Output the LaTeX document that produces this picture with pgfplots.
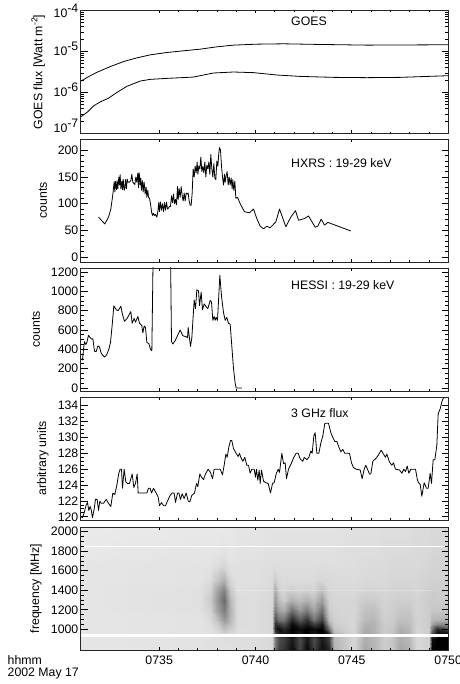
\documentclass[border=0pt]{standalone}
\usepackage{fontspec}
\setmainfont{Liberation Sans}
\usepackage{pgfplots}
\pgfplotsset{compat=1.18}
\newcommand{\tenexp}[1]{10\raisebox{0.42em}{#1}}
\tikzset{note/.style={anchor=west, font=\fontsize{12.3}{14}\selectfont, inner sep=0pt}}
\pgfplotsset{
  panel/.style={
    scale only axis, width=368pt, height=123pt, anchor=south west,
    xmin=241, xmax=1345,
    xtick={477,766,1055,1344}, xticklabels={}, minor x tick num=4,
    major tick length=7pt, minor tick length=3.5pt,
    xtick style={/pgfplots/major tick length=3pt},
    minor x tick style={/pgfplots/minor tick length=1.5pt},
    every tick/.append style={black, line width=0.8pt},
    axis line style={line width=0.9pt, black!85},
    /pgf/number format/assume math mode=true,
    /pgf/number format/1000 sep={},
    tick label style={font=\fontsize{12.3}{14}\selectfont, inner sep=2pt},
    axis on top=true,
  },
  curve/.style={black, line width=0.8pt, line join=round, no markers},
  ylab/.style={every axis y label/.style={at={(axis description cs:#1,0.5)},rotate=90,anchor=center,font=\fontsize{12.3}{14}\selectfont}},
}
\begin{document}
\begin{tikzpicture}
\path[use as bounding box] (0,0) rectangle (459pt,684pt);

% GOES
\begin{axis}[panel, at={(80.5pt,550.5pt)}, ymode=log, ymin=1e-7, ymax=1e-4,
  ytick={1e-7,1e-6,1e-5,1e-4},
  yticklabels={\raisebox{5.5pt}{\tenexp{-7}},\tenexp{-6},\tenexp{-5},\raisebox{-3pt}{\tenexp{-4}}},
  yticklabel style={anchor=base east, yshift=-4.4pt},
  ylab=-0.115, ylabel={GOES flux [Watt m\raisebox{0.4em}{\fontsize{8.5}{9}\selectfont -2}]}]
\addplot[curve] coordinates {(241,1.87e-6)(265,2.43e-6)(290,3.1e-6)(330,4.28e-6)(370,5.68e-6)(410,6.98e-6)(450,8.28e-6)(500,9.45e-6)(550,1.04e-5)(600,1.14e-5)(650,1.30e-5)(700,1.43e-5)(770,1.51e-5)(850,1.54e-5)(950,1.49e-5)(1100,1.43e-5)(1345,1.46e-5)};
\addplot[curve] coordinates {(241,2.52e-7)(262,3.35e-7)(280,4.70e-7)(300,5.89e-7)(325,7.26e-7)(350,1e-6)(380,1.41e-6)(420,1.90e-6)(450,2.09e-6)(500,2.21e-6)(580,2.38e-6)(640,2.99e-6)(700,3.16e-6)(760,3.05e-6)(830,2.67e-6)(900,2.47e-6)(1000,2.34e-6)(1100,2.30e-6)(1200,2.34e-6)(1345,2.57e-6)};
\node[note] at (rel axis cs:0.572,0.915) {GOES};
\end{axis}

% HXRS
\begin{axis}[panel, at={(80.5pt,422pt)}, ymin=-9, ymax=221,
  ytick={0,50,100,150,200}, minor y tick num=4,
  ylab=-0.102, ylabel={counts}]
\addplot[curve] coordinates {(295,75)(314,62)(325,75)(332,90)(338,117)(342,141)(344,122)(346,142)(349,126)(351,143)(353,128)(356,150)(358,135)(360,154)(362,128)(365,142)(367,126)(369,146)(372,125)(374,128)(376,145)(379,128)(381,146)(384,140)(386,140)(389,141)(392,143)(395,155)(398,140)(401,138)(404,136)(407,150)(410,140)(413,157)(415,130)(417,158)(420,135)(422,148)(424,125)(427,143)(429,122)(432,140)(435,118)(438,131)(440,112)(443,125)(445,112)(448,110)(451,100)(454,85)(457,78)(460,82)(463,78)(466,80)(470,75)(473,85)(476,103)(478,85)(481,103)(484,88)(487,100)(490,85)(493,102)(496,88)(499,103)(502,90)(505,92)(508,95)(511,95)(514,115)(517,102)(520,118)(523,100)(526,108)(529,98)(532,132)(534,108)(537,128)(540,112)(543,132)(546,115)(549,105)(552,120)(555,105)(558,120)(561,118)(564,120)(567,105)(570,97)(573,97)(576,120)(579,165)(582,150)(585,170)(588,158)(591,178)(593,155)(596,170)(599,165)(602,187)(605,160)(608,170)(611,158)(614,178)(617,150)(620,172)(623,165)(626,178)(629,155)(632,192)(635,165)(638,150)(641,175)(644,148)(647,145)(650,180)(653,170)(656,195)(658,205)(661,200)(664,170)(667,150)(670,135)(673,155)(675,140)(678,152)(681,160)(684,135)(687,150)(690,135)(693,148)(696,128)(698,145)(701,125)(704,142)(707,110)(712,112)(720,100)(733,85)(748,83)(760,90)(770,72)(780,58)(790,53)(800,58)(810,55)(827,66)(838,90)(857,57)(872,75)(886,87)(895,69)(912,72)(925,77)(945,56)(953,58)(963,71)(973,60)(983,65)(1052,49)};
\node[note] at (rel axis cs:0.572,0.807) {HXRS : 19-29 keV};
\end{axis}

% HESSI
\begin{axis}[panel, at={(80.5pt,293pt)}, ymin=-31, ymax=1241,
  ytick={0,200,400,600,800,1000,1200}, minor y tick num=3,
  ylab=-0.121, ylabel={counts}]
\addplot[curve] coordinates {(243,300)(247,290)(250,400)(253,480)(257,450)(260,470)(265,545)(270,520)(275,505)(278,510)(283,380)(288,375)(293,435)(298,425)(302,370)(306,345)(313,320)(319,340)(326,400)(331,470)(336,650)(341,850)(348,810)(354,800)(362,845)(367,760)(373,690)(381,720)(392,790)(396,670)(402,720)(406,680)(413,740)(418,670)(425,645)(428,570)(432,640)(436,625)(440,470)(446,460)(451,400)(455,385)(459,1400)(511,1400)(514,480)(518,455)(525,490)(540,600)(548,540)(558,530)(562,520)(564,625)(571,430)(575,520)(582,910)(586,820)(590,1015)(595,1005)(598,850)(603,990)(607,810)(612,870)(620,830)(623,820)(630,905)(634,890)(638,700)(642,740)(645,700)(648,730)(652,700)(659,1165)(664,950)(670,780)(675,700)(680,730)(685,670)(690,660)(695,430)(700,200)(705,50)(708,0)(725,0)};
\node[note] at (rel axis cs:0.572,0.862) {HESSI : 19-29 keV};
\end{axis}

% 3 GHz
\begin{axis}[panel, at={(80.5pt,164pt)}, ymin=119.6, ymax=135.1,
  ytick={120,122,124,126,128,130,132,134}, minor y tick num=3,
  ylab=-0.102, ylabel={arbitrary units}]
\addplot[curve] coordinates {(243,120)(247,119.9)(252,120.5)(258,121.5)(262,121.8)(266,120.8)(270,121.3)(273,120.9)(277,119.9)(282,121)(286,122.2)(291,122.2)(295,120.8)(299,122)(303,121.7)(310,121.7)(318,122.2)(325,121.7)(332,121.3)(338,123)(344,122.8)(350,124)(356,125.5)(360,126)(364,126)(367,123.6)(372,126)(377,124.4)(382,124.2)(388,124.2)(396,125.4)(401,123.7)(406,124.2)(411,125.4)(414,123)(420,123)(440,123)(445,123.6)(450,123.6)(454,123)(460,123.6)(468,123)(474,122.5)(478,121.4)(484,121.8)(490,121.4)(496,121.4)(502,122)(510,122.7)(516,123)(522,123)(526,121.8)(532,123)(536,123)(541,122.2)(546,122.9)(552,122.3)(558,123)(564,122)(569,121.9)(575,122.7)(583,123)(589,124.2)(593,123.8)(599,125.4)(604,125)(610,124.7)(616,125.4)(624,126)(631,125.6)(637,124.8)(642,126)(660,126)(667,125.3)(672,126.5)(677,127.9)(681,127.5)(686,128.8)(691,129.6)(695,129.6)(700,128.6)(708,128)(714,127.6)(718,128)(722,127.5)(728,127)(734,127.5)(740,126.5)(745,126.5)(750,125.5)(755,126)(762,126)(766,125)(769,126)(773,124.6)(777,125.9)(780,124.2)(784,125.9)(790,124.5)(797,124.3)(804,124.2)(811,123)(817,124.2)(822,124.3)(828,125.4)(834,126)(838,125.6)(845,128)(850,126.7)(855,126.8)(859,124.8)(865,126)(873,126.7)(881,127.5)(888,128)(894,128)(900,127.3)(908,127)(912,127.5)(920,127.2)(926,127.5)(932,128.3)(936,128)(941,130.2)(945,130.6)(950,128)(956,128)(962,129.3)(968,130.2)(974,131.8)(985,131.8)(992,130.6)(998,130)(1004,129.5)(1010,129.5)(1016,128.8)(1022,128.2)(1028,128.5)(1034,128)(1048,128)(1054,126.8)(1060,126.2)(1068,126)(1080,125.9)(1086,124.8)(1092,126)(1097,126.5)(1102,126)(1108,125.4)(1112,125.4)(1118,127)(1128,127.4)(1135,127.8)(1143,128.4)(1150,127.9)(1156,127.5)(1160,127.9)(1168,126.9)(1175,126.5)(1180,126.8)(1186,126)(1198,125.9)(1205,125.5)(1211,126)(1216,125.7)(1221,126.4)(1226,125.5)(1232,126)(1246,126)(1252,124.6)(1257,124.2)(1260,124.1)(1265,122.6)(1272,124.3)(1279,123.6)(1284,123.6)(1290,125.5)(1294,124.2)(1299,127.2)(1304,127.2)(1310,129)(1314,133)(1320,133.6)(1325,134.5)(1330,135)(1340,135)};
\node[note] at (rel axis cs:0.572,0.87) {3 GHz flux};
\end{axis}

% Spectrogram
\begin{axis}[panel, at={(80.5pt,34pt)}, ymin=788, ymax=2048,
  ytick={1000,1200,1400,1600,1800,2000}, minor y tick num=3,
  xticklabels={0735,0740,0745,0750},
  xticklabel style={yshift=-4pt},
  ylab=-0.121, ylabel={frequency [MHz]},
  colormap={greys}{gray(0cm)=(1); gray(1cm)=(0)},
  point meta min=0, point meta max=1]
\addplot[surf, shader=interp, mesh/cols=31, point meta=\thisrow{z}] table[x=x, y=y, row sep=\\] {
x y z\\
241 788 .10\\600 788 .11\\630 788 .12\\650 788 .12\\670 788 .12\\690 788 .12\\710 788 .13\\760 788 .13\\815 788 .15\\825 788 .55\\835 788 .75\\850 788 .80\\875 788 .95\\900 788 .72\\920 788 .98\\940 788 .75\\965 788 .95\\985 788 .85\\1000 788 .30\\1060 788 .16\\1095 788 .35\\1120 788 .30\\1150 788 .20\\1175 788 .22\\1200 788 .35\\1225 788 .30\\1250 788 .15\\1285 788 .18\\1295 788 1\\1310 788 1\\1345 788 1\\
241 900 .10\\600 900 .11\\630 900 .12\\650 900 .12\\670 900 .13\\690 900 .13\\710 900 .13\\760 900 .13\\815 900 .15\\825 900 .50\\835 900 .70\\850 900 .75\\875 900 .90\\900 900 .70\\920 900 .90\\940 900 .70\\965 900 .90\\985 900 .75\\1000 900 .28\\1060 900 .16\\1095 900 .32\\1120 900 .28\\1150 900 .20\\1175 900 .22\\1200 900 .32\\1225 900 .28\\1250 900 .15\\1285 900 .18\\1295 900 .95\\1310 900 1\\1345 900 1\\
241 950 .10\\600 950 .11\\630 950 .12\\650 950 .14\\670 950 .18\\690 950 .15\\710 950 .13\\760 950 .13\\815 950 .16\\825 950 .70\\835 950 .85\\850 950 .90\\875 950 1\\900 950 .90\\920 950 1\\940 950 .90\\965 950 1\\985 950 .85\\1000 950 .30\\1060 950 .17\\1095 950 .35\\1120 950 .32\\1150 950 .20\\1175 950 .24\\1200 950 .34\\1225 950 .30\\1250 950 .16\\1285 950 .20\\1295 950 .70\\1310 950 .95\\1345 950 .95\\
241 1000 .10\\600 1000 .11\\630 1000 .12\\650 1000 .16\\670 1000 .25\\690 1000 .20\\710 1000 .13\\760 1000 .13\\815 1000 .16\\825 1000 .85\\835 1000 .95\\850 1000 .85\\875 1000 1\\900 1000 .95\\920 1000 1\\940 1000 .95\\965 1000 1\\985 1000 .55\\1000 1000 .22\\1060 1000 .16\\1095 1000 .33\\1120 1000 .30\\1150 1000 .20\\1175 1000 .22\\1200 1000 .32\\1225 1000 .28\\1250 1000 .16\\1285 1000 .20\\1295 1000 .55\\1310 1000 .85\\1345 1000 .70\\
241 1050 .10\\600 1050 .11\\630 1050 .13\\650 1050 .20\\670 1050 .32\\690 1050 .25\\710 1050 .14\\760 1050 .13\\815 1050 .16\\825 1050 .80\\835 1050 .75\\850 1050 .70\\875 1050 .95\\900 1050 .80\\920 1050 .90\\940 1050 .75\\965 1050 .90\\985 1050 .35\\1000 1050 .20\\1060 1050 .16\\1095 1050 .30\\1120 1050 .30\\1150 1050 .20\\1175 1050 .20\\1200 1050 .28\\1225 1050 .26\\1250 1050 .17\\1285 1050 .20\\1295 1050 .35\\1310 1050 .45\\1345 1050 .45\\
241 1100 .10\\600 1100 .11\\630 1100 .14\\650 1100 .25\\670 1100 .40\\690 1100 .28\\710 1100 .14\\760 1100 .13\\815 1100 .16\\825 1100 .70\\835 1100 .55\\850 1100 .55\\875 1100 .85\\900 1100 .65\\920 1100 .80\\940 1100 .55\\965 1100 .75\\985 1100 .25\\1000 1100 .18\\1060 1100 .16\\1095 1100 .27\\1120 1100 .28\\1150 1100 .19\\1175 1100 .20\\1200 1100 .25\\1225 1100 .25\\1250 1100 .17\\1285 1100 .20\\1295 1100 .28\\1310 1100 .30\\1345 1100 .30\\
241 1200 .10\\600 1200 .12\\630 1200 .18\\650 1200 .36\\670 1200 .52\\690 1200 .30\\710 1200 .14\\760 1200 .13\\815 1200 .16\\825 1200 .50\\835 1200 .35\\850 1200 .32\\875 1200 .55\\900 1200 .40\\920 1200 .50\\940 1200 .35\\965 1200 .55\\985 1200 .20\\1000 1200 .17\\1060 1200 .16\\1095 1200 .24\\1120 1200 .25\\1150 1200 .18\\1175 1200 .19\\1200 1200 .22\\1225 1200 .22\\1250 1200 .17\\1285 1200 .20\\1295 1200 .22\\1310 1200 .22\\1345 1200 .22\\
241 1300 .10\\600 1300 .12\\630 1300 .20\\650 1300 .40\\670 1300 .58\\690 1300 .28\\710 1300 .14\\760 1300 .13\\815 1300 .15\\825 1300 .40\\835 1300 .25\\850 1300 .20\\875 1300 .30\\900 1300 .25\\920 1300 .30\\940 1300 .25\\965 1300 .38\\985 1300 .18\\1000 1300 .16\\1060 1300 .16\\1095 1300 .20\\1120 1300 .20\\1150 1300 .17\\1175 1300 .18\\1200 1300 .19\\1225 1300 .19\\1250 1300 .17\\1285 1300 .20\\1295 1300 .20\\1310 1300 .20\\1345 1300 .20\\
241 1400 .10\\600 1400 .12\\630 1400 .17\\650 1400 .35\\670 1400 .48\\690 1400 .22\\710 1400 .13\\760 1400 .13\\815 1400 .15\\825 1400 .33\\835 1400 .18\\850 1400 .16\\875 1400 .18\\900 1400 .17\\920 1400 .18\\940 1400 .17\\965 1400 .25\\985 1400 .16\\1000 1400 .15\\1060 1400 .15\\1095 1400 .17\\1120 1400 .17\\1150 1400 .16\\1175 1400 .17\\1200 1400 .17\\1225 1400 .17\\1250 1400 .16\\1285 1400 .19\\1295 1400 .20\\1310 1400 .19\\1345 1400 .19\\
241 1500 .10\\600 1500 .11\\630 1500 .13\\650 1500 .22\\670 1500 .30\\690 1500 .16\\710 1500 .12\\760 1500 .12\\815 1500 .14\\825 1500 .20\\835 1500 .15\\850 1500 .14\\875 1500 .14\\900 1500 .14\\920 1500 .14\\940 1500 .14\\965 1500 .16\\985 1500 .15\\1000 1500 .14\\1060 1500 .14\\1095 1500 .15\\1120 1500 .15\\1150 1500 .15\\1175 1500 .16\\1200 1500 .16\\1225 1500 .16\\1250 1500 .16\\1285 1500 .18\\1295 1500 .18\\1310 1500 .18\\1345 1500 .18\\
241 1650 .10\\600 1650 .11\\630 1650 .11\\650 1650 .13\\670 1650 .16\\690 1650 .12\\710 1650 .12\\760 1650 .12\\815 1650 .13\\825 1650 .13\\835 1650 .13\\850 1650 .13\\875 1650 .13\\900 1650 .13\\920 1650 .13\\940 1650 .13\\965 1650 .13\\985 1650 .13\\1000 1650 .13\\1060 1650 .13\\1095 1650 .14\\1120 1650 .14\\1150 1650 .14\\1175 1650 .15\\1200 1650 .15\\1225 1650 .15\\1250 1650 .15\\1285 1650 .16\\1295 1650 .17\\1310 1650 .17\\1345 1650 .17\\
241 1800 .09\\600 1800 .10\\630 1800 .10\\650 1800 .10\\670 1800 .11\\690 1800 .10\\710 1800 .11\\760 1800 .11\\815 1800 .12\\825 1800 .12\\835 1800 .12\\850 1800 .12\\875 1800 .12\\900 1800 .12\\920 1800 .12\\940 1800 .12\\965 1800 .12\\985 1800 .12\\1000 1800 .12\\1060 1800 .13\\1095 1800 .13\\1120 1800 .13\\1150 1800 .14\\1175 1800 .14\\1200 1800 .14\\1225 1800 .14\\1250 1800 .15\\1285 1800 .15\\1295 1800 .16\\1310 1800 .16\\1345 1800 .16\\
241 2048 .08\\600 2048 .09\\630 2048 .09\\650 2048 .09\\670 2048 .09\\690 2048 .09\\710 2048 .10\\760 2048 .10\\815 2048 .11\\825 2048 .11\\835 2048 .11\\850 2048 .11\\875 2048 .11\\900 2048 .11\\920 2048 .11\\940 2048 .11\\965 2048 .11\\985 2048 .11\\1000 2048 .11\\1060 2048 .12\\1095 2048 .12\\1120 2048 .12\\1150 2048 .13\\1175 2048 .13\\1200 2048 .13\\1225 2048 .13\\1250 2048 .14\\1285 2048 .14\\1295 2048 .15\\1310 2048 .15\\1345 2048 .15\\
};
\addplot[white, line width=1.2pt, no markers] coordinates {(241,1850)(1345,1850)};
\addplot[white, line width=3.4pt, no markers] coordinates {(241,935)(1342,935)};
\addplot[white, opacity=0.25, line width=0.7pt, no markers] coordinates {(700,1400)(1300,1400)};
\end{axis}

\node[anchor=base west, inner sep=0pt, font=\fontsize{12.3}{14}\selectfont] at (7.5pt,19pt) {hhmm};
\node[anchor=base west, inner sep=0pt, font=\fontsize{12.3}{14}\selectfont] at (7.5pt,8pt) {2002 May 17};
\end{tikzpicture}
\end{document}
